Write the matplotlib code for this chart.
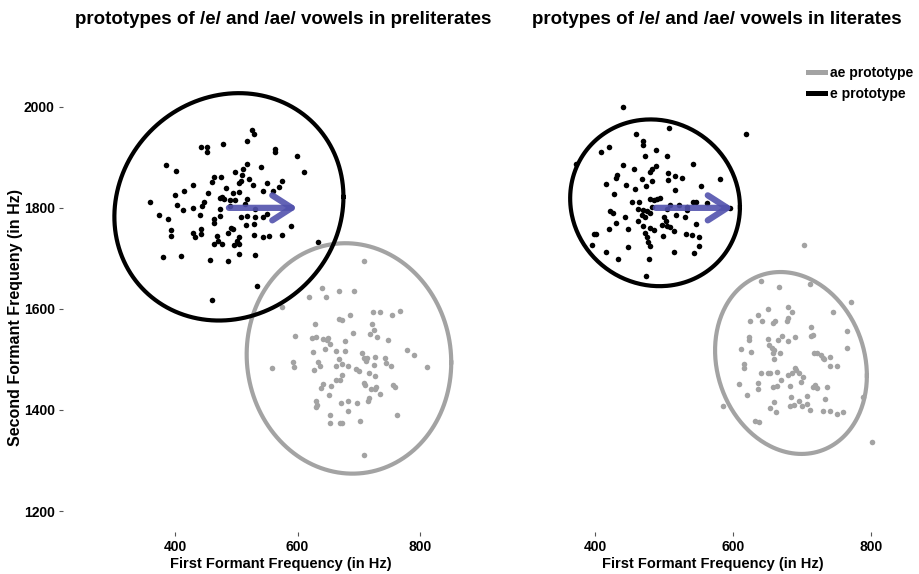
import numpy as np
import matplotlib
matplotlib.use('Agg')
import matplotlib.pyplot as plt
from matplotlib.lines import Line2D

plt.rcParams['font.family'] = ['Liberation Sans', 'DejaVu Sans']
plt.rcParams['font.weight'] = 'bold'

# preliterates, /e/ tokens (F1, F2 in Hz)
pre_e_f1 = [359, 374, 388, 386, 401, 394, 394, 381, 410, 400,
            404, 413, 415, 430, 429, 440, 429, 433, 442, 442,
            444, 448, 442, 453, 453, 479, 517, 526, 529, 564,
            564, 599, 611, 540, 517, 498, 509, 521, 504, 507,
            463, 475, 461, 484, 454, 473, 476, 480, 489, 498,
            490, 518, 504, 528, 543, 550, 574, 569, 560, 495,
            514, 531, 550, 544, 531, 507, 517, 529, 516, 495,
            492, 487, 464, 464, 474, 474, 469, 463, 471, 476,
            505, 502, 497, 504, 529, 544, 554, 574, 589, 457,
            486, 505, 531, 534, 461, 633, 511]
pre_e_f2 = [1811, 1786, 1778, 1885, 1873, 1756, 1744, 1702, 1705, 1825,
            1805, 1795, 1834, 1845, 1799, 1786, 1751, 1743, 1758, 1748,
            1804, 1812, 1921, 1920, 1910, 1927, 1932, 1954, 1946, 1916,
            1910, 1902, 1870, 1880, 1886, 1870, 1865, 1858, 1850, 1854,
            1862, 1862, 1852, 1840, 1830, 1820, 1822, 1817, 1815, 1815,
            1804, 1818, 1832, 1845, 1834, 1850, 1853, 1841, 1834, 1830,
            1807, 1797, 1788, 1781, 1782, 1782, 1784, 1769, 1766, 1759,
            1761, 1751, 1778, 1771, 1784, 1797, 1745, 1728, 1734, 1728,
            1743, 1735, 1726, 1728, 1746, 1742, 1745, 1746, 1764, 1696,
            1694, 1709, 1707, 1646, 1617, 1732, 1876]

# preliterates, /ae/ tokens
pre_ae_f1 = [709, 640, 668, 693, 619, 646, 574, 724, 734, 755,
             768, 668, 673, 686, 629, 721, 725, 718, 729, 747,
             691, 596, 624, 630, 642, 649, 648, 653, 678, 626,
             645, 663, 678, 705, 708, 713, 712, 726, 743, 744,
             752, 778, 791, 812, 559, 592, 595, 633, 636, 627,
             663, 667, 673, 683, 696, 701, 716, 725, 726, 672,
             663, 669, 655, 642, 638, 652, 708, 710, 720, 726,
             734, 728, 756, 759, 716, 715, 697, 682, 671, 630,
             632, 630, 683, 653, 653, 669, 673, 702, 763, 708]
pre_ae_f2 = [1694, 1641, 1636, 1636, 1623, 1623, 1603, 1593, 1594, 1588,
             1596, 1580, 1579, 1587, 1571, 1571, 1559, 1550, 1544, 1538,
             1552, 1546, 1543, 1544, 1541, 1543, 1538, 1530, 1537, 1514,
             1520, 1517, 1517, 1512, 1502, 1502, 1497, 1504, 1503, 1493,
             1488, 1519, 1509, 1485, 1483, 1495, 1485, 1495, 1487, 1480,
             1488, 1500, 1491, 1488, 1482, 1478, 1474, 1489, 1467, 1470,
             1460, 1459, 1447, 1451, 1443, 1430, 1454, 1449, 1442, 1442,
             1432, 1445, 1449, 1446, 1424, 1418, 1413, 1418, 1413, 1418,
             1410, 1405, 1397, 1390, 1374, 1375, 1375, 1378, 1390, 1310]

# literates, /e/ tokens
lit_e_f1 = [507, 460, 619, 469, 470, 421, 408, 488, 472, 504,
            542, 372, 440, 457, 482, 489, 480, 506, 516, 526,
            506, 581, 432, 430, 416, 445, 468, 482, 474, 458,
            516, 554, 428, 453, 464, 480, 485, 490, 494, 463,
            470, 475, 482, 468, 472, 479, 504, 508, 522, 533,
            542, 547, 562, 595, 422, 426, 444, 430, 463, 500,
            503, 518, 530, 533, 547, 421, 448, 470, 480, 485,
            497, 504, 509, 514, 472, 475, 498, 532, 540, 550,
            398, 402, 395, 416, 433, 448, 477, 480, 514, 544,
            551, 478, 474, 440]
lit_e_f2 = [1958, 1946, 1946, 1933, 1925, 1920, 1910, 1914, 1903, 1902,
            1887, 1886, 1884, 1877, 1877, 1883, 1871, 1868, 1863, 1860,
            1856, 1858, 1865, 1860, 1847, 1845, 1858, 1853, 1843, 1837,
            1835, 1843, 1827, 1812, 1812, 1817, 1815, 1817, 1819, 1797,
            1795, 1794, 1802, 1786, 1781, 1790, 1797, 1805, 1805, 1801,
            1812, 1812, 1810, 1799, 1793, 1789, 1781, 1771, 1774, 1782,
            1774, 1786, 1782, 1795, 1768, 1758, 1758, 1764, 1761, 1756,
            1766, 1764, 1762, 1755, 1751, 1742, 1745, 1748, 1747, 1742,
            1748, 1749, 1727, 1712, 1699, 1722, 1732, 1725, 1712, 1710,
            1725, 1698, 1665, 2000]

# literates, /ae/ tokens
lit_ae_f1 = [703, 641, 666, 711, 771, 651, 680, 686, 636, 625,
             642, 658, 661, 679, 678, 745, 713, 713, 716, 765,
             623, 623, 650, 665, 671, 680, 690, 652, 656, 659,
             658, 668, 611, 626, 765, 717, 721, 728, 730, 732,
             740, 740, 751, 660, 616, 616, 641, 650, 654, 664,
             680, 686, 690, 692, 695, 702, 698, 609, 636, 636,
             658, 664, 669, 683, 716, 721, 719, 736, 620, 660,
             654, 663, 684, 683, 688, 695, 700, 707, 707, 711,
             730, 733, 740, 750, 759, 788, 585, 632, 637, 802]
lit_ae_f2 = [1726, 1656, 1644, 1650, 1613, 1599, 1603, 1594, 1588, 1577,
             1577, 1572, 1576, 1583, 1576, 1594, 1564, 1547, 1549, 1556,
             1544, 1538, 1541, 1538, 1546, 1536, 1544, 1528, 1523, 1518,
             1513, 1512, 1520, 1515, 1522, 1512, 1513, 1508, 1503, 1500,
             1504, 1487, 1487, 1500, 1490, 1483, 1474, 1474, 1474, 1476,
             1469, 1474, 1484, 1479, 1474, 1466, 1456, 1451, 1453, 1441,
             1446, 1447, 1459, 1447, 1446, 1443, 1449, 1445, 1430, 1415,
             1403, 1395, 1425, 1408, 1410, 1418, 1407, 1428, 1412, 1400,
             1398, 1421, 1397, 1393, 1395, 1425, 1408, 1378, 1377, 1336]

# prototype ellipses: centre F1, centre F2, half-range F1, half-range F2, tilt phase (deg)
pre_e_ell = (488, 1802, 187, 225, 85)
pre_ae_ell = (684, 1502, 167, 228, 92)
lit_e_ell = (487, 1810, 123, 165, 93)
lit_ae_ell = (684, 1493, 110, 180, 98)

# arrow from /e/ mean towards prototype
arrow_start = (488, 1800)
arrow_end = (600, 1800)

x_ticks = [400, 600, 800]
y_ticks = [1200, 1400, 1600, 1800, 2000]

GREY = '#a3a3a3'
BLUE = '#5252ad'


def draw_ellipse(ax, ell, color):
    cx, cy, a, b, phi = ell
    t = np.linspace(0, 2 * np.pi, 300)
    ax.plot(cx + a * np.cos(t), cy + b * np.cos(t + np.radians(phi)),
            color=color, lw=3.0, zorder=3)


def draw_panel(ax, e1, e2, ae1, ae2, e_ell, ae_ell, xlim):
    ax.scatter(ae1, ae2, s=16, color=GREY, linewidths=0, zorder=2)
    ax.scatter(e1, e2, s=16, color='black', linewidths=0, zorder=2)
    draw_ellipse(ax, ae_ell, GREY)
    draw_ellipse(ax, e_ell, 'black')
    ax.annotate('', xy=arrow_end, xytext=arrow_start,
                arrowprops=dict(arrowstyle='->,head_length=0.7,head_width=0.45',
                                lw=4.5, color=BLUE, alpha=0.9,
                                mutation_scale=20, shrinkA=0, shrinkB=0),
                zorder=4)
    ax.set_xlim(*xlim)
    ax.set_ylim(1158.5, 2102.5)
    ax.set_xticks(x_ticks)
    for s in ax.spines.values():
        s.set_visible(False)
    ax.tick_params(axis='both', length=3, width=0.8, color='#555555',
                   labelsize=10, pad=3)
    ax.set_xlabel('First Formant Frequency (in Hz)', fontsize=10.5,
                  fontweight='bold', labelpad=2)


fig = plt.figure(figsize=(9.2, 5.74), dpi=100)
ax1 = fig.add_axes([63 / 920, 42 / 574, 436 / 920, 477 / 574])
ax2 = fig.add_axes([520 / 920, 42 / 574, 386 / 920, 477 / 574])

draw_panel(ax1, pre_e_f1, pre_e_f2, pre_ae_f1, pre_ae_f2,
           pre_e_ell, pre_ae_ell, (217.1, 929.0))
draw_panel(ax2, lit_e_f1, lit_e_f2, lit_ae_f1, lit_ae_f2,
           lit_e_ell, lit_ae_ell, (291.3, 850.7))

ax1.set_yticks(y_ticks)
ax1.set_ylabel('Second Formant Frequeny (in Hz)', fontsize=11.5, fontweight='bold')
ax1.yaxis.set_label_coords(-40 / 436, 0.45)
ax2.set_yticks([])

fig.text(283 / 920, 1 - 20 / 574, 'prototypes of /e/ and /ae/ vowels in preliterates',
         ha='center', va='center', fontsize=13.5, fontweight='bold')
fig.text(717 / 920, 1 - 20 / 574, 'protypes of /e/ and /ae/ vowels in literates',
         ha='center', va='center', fontsize=13.5, fontweight='bold')

handles = [Line2D([], [], color=GREY, lw=3.6), Line2D([], [], color='black', lw=3.6)]
fig.legend(handles, ['ae prototype', 'e prototype'], loc='upper left',
           bbox_to_anchor=(808 / 920, 1 - 66 / 574), frameon=False,
           fontsize=10, handlelength=1.2, handletextpad=0.4,
           labelspacing=0.5, borderpad=0, borderaxespad=0)

fig.savefig('out.png', dpi=100)
